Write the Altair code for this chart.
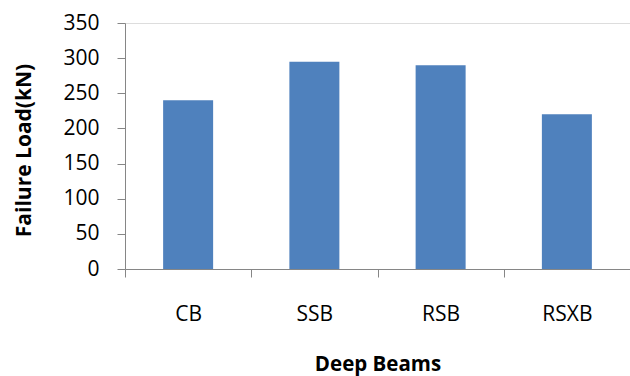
import altair as alt
import pandas as pd

beams = ["CB", "SSB", "RSB", "RSXB"]
failure_load = [240, 295, 290, 220]
y_ticks = [0, 50, 100, 150, 200, 250, 300, 350]

df = pd.DataFrame({"beam": beams, "load": failure_load})

axis_gray = "#868686"
font = "Open Sans"

chart = alt.Chart(df).mark_bar(size=50, color="#4F81BD").encode(
    x=alt.X(
        "beam:N",
        sort=beams,
        scale=alt.Scale(paddingInner=0, paddingOuter=0),
        axis=alt.Axis(
            title="Deep Beams",
            labelAngle=0,
            tickBand="extent",
            tickSize=8,
            tickColor=axis_gray,
            domainColor=axis_gray,
            labelPadding=26,
            labelFont=font,
            labelFontSize=21,
            labelColor="#000000",
            titleFont=font,
            titleFontSize=20.5,
            titleFontWeight="bold",
            titleColor="#000000",
            titleBaseline="alphabetic",
            titleY=101,
        ),
    ),
    y=alt.Y(
        "load:Q",
        scale=alt.Scale(domain=[0, 350], nice=False),
        axis=alt.Axis(
            title="Failure Load(kN)",
            values=y_ticks,
            grid=False,
            tickSize=8,
            tickColor=axis_gray,
            domainColor=axis_gray,
            labelPadding=18,
            labelFont=font,
            labelFontSize=21,
            labelColor="#000000",
            titleFont=font,
            titleFontSize=21,
            titleFontWeight="bold",
            titleColor="#000000",
            titleAngle=270,
            titleBaseline="middle",
            titleAlign="center",
            titleX=-101,
            titleY=127,
        ),
    ),
).properties(
    width=505,
    height=246,
    autosize=alt.AutoSizeParams(type="none"),
    padding={"left": 125, "top": 23, "right": 0, "bottom": 107},
).configure_view(stroke=None).configure(background="white")

chart.save("out.html", embed_options={"renderer": "svg", "actions": False})
